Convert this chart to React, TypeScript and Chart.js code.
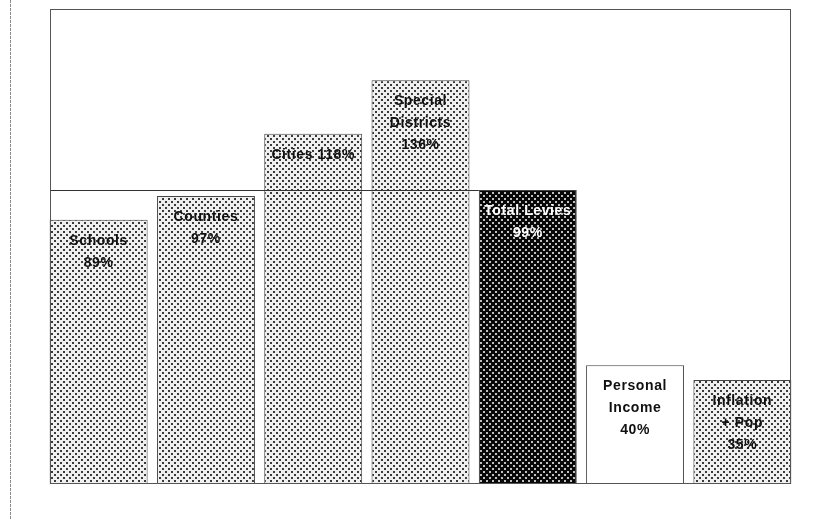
import React, { useEffect, useRef } from "react";
import { Chart, registerables } from "chart.js";

Chart.register(...registerables);

const categories = ["Schools", "Counties", "Cities", "Special Districts", "Total Levies", "Personal Income", "Inflation + Pop"];
const values = [89, 97, 118, 136, 99, 40, 35];
const nameLines = [["Schools"], ["Counties"], ["Cities"], ["Special", "Districts"], ["Total Levies"], ["Personal", "Income"], ["Inflation", "+ Pop"]];
const valueInline = [false, false, true, false, false, false, false];
const fillKinds = ["light", "light", "light", "light", "dark", "white", "light"];
const referenceIndex = 4;
const yMin = 0;
const yMax = 160;

function makePattern(bg: string, dot: string) {
  const c = document.createElement("canvas");
  c.width = 6;
  c.height = 6;
  const g = c.getContext("2d")!;
  g.fillStyle = bg;
  g.fillRect(0, 0, 6, 6);
  g.fillStyle = dot;
  g.fillRect(0, 0, 2, 2);
  g.fillRect(3, 3, 2, 2);
  return g.createPattern(c, "repeat")!;
}

const framePlugin = {
  id: "framePlugin",
  afterDatasetsDraw(chart: any) {
    const { ctx, chartArea } = chart;
    const y = chart.scales.y;
    const meta = chart.getDatasetMeta(0);
    const els = meta.data.map((el: any) => el.getProps(["x", "y", "width", "base"], true));
    const left = Math.round(els[0].x - els[0].width / 2) + 0.5;
    const right = Math.round(els[els.length - 1].x + els[els.length - 1].width / 2) - 0.5;
    const top = Math.round(chartArea.top) + 0.5;
    const bottom = Math.round(chartArea.bottom) - 0.5;
    ctx.save();
    // scan edge line at far left
    ctx.strokeStyle = "#8a8a8a";
    ctx.lineWidth = 1;
    ctx.setLineDash([3, 1]);
    ctx.beginPath();
    ctx.moveTo(10.5, 0);
    ctx.lineTo(10.5, chart.height);
    ctx.stroke();
    ctx.setLineDash([]);
    // frame
    ctx.strokeStyle = "#555";
    ctx.strokeRect(left, top, right - left, bottom - top);
    // reference line at total levies
    const yp = Math.round(y.getPixelForValue(values[referenceIndex])) + 0.5;
    const ref = els[referenceIndex];
    ctx.strokeStyle = "#333";
    ctx.beginPath();
    ctx.moveTo(left, yp);
    ctx.lineTo(ref.x - ref.width / 2, yp);
    ctx.stroke();
    // labels
    ctx.font = "bold 14px 'Liberation Sans', Arial, sans-serif";
    (ctx as any).letterSpacing = "0.6px";
    ctx.textAlign = "center";
    ctx.textBaseline = "middle";
    els.forEach((el: any, i: number) => {
      const pct = values[i] + "%";
      const lines = valueInline[i]
        ? [...nameLines[i].slice(0, -1), nameLines[i][nameLines[i].length - 1] + " " + pct]
        : [...nameLines[i], pct];
      ctx.fillStyle = fillKinds[i] === "dark" ? "#ffffff" : "#111111";
      lines.forEach((t: string, k: number) => {
        ctx.fillText(t, el.x, el.y + 21 + k * 22);
      });
    });
    ctx.restore();
  },
};

export default function App() {
  const ref = useRef<HTMLCanvasElement>(null);
  useEffect(() => {
    document.body.style.margin = "0";
    const light = makePattern("#f0f0f0", "#3a3a3a");
    const dark = makePattern("#080808", "#c0c0c0");
    const fills = fillKinds.map((k) => (k === "light" ? light : k === "dark" ? dark : "#ffffff"));
    const chart = new Chart(ref.current!, {
      type: "bar",
      data: {
        labels: categories,
        datasets: [
          {
            data: values,
            backgroundColor: fills as any,
            borderColor: "#444",
            borderWidth: 1,
            categoryPercentage: 1,
            barPercentage: 0.913,
          },
        ],
      },
      options: {
        animation: false,
        responsive: false,
        maintainAspectRatio: false,
        layout: { padding: { left: 45, right: 21, top: 9, bottom: 35 } },
        plugins: { legend: { display: false }, tooltip: { enabled: false } },
        scales: {
          x: { display: false },
          y: { display: false, min: yMin, max: yMax },
        },
      },
      plugins: [framePlugin],
    });
    return () => chart.destroy();
  }, []);
  return (
    <div style={{ width: 817, height: 519, background: "#fff" }}>
      <canvas ref={ref} width={817} height={519} />
    </div>
  );
}
